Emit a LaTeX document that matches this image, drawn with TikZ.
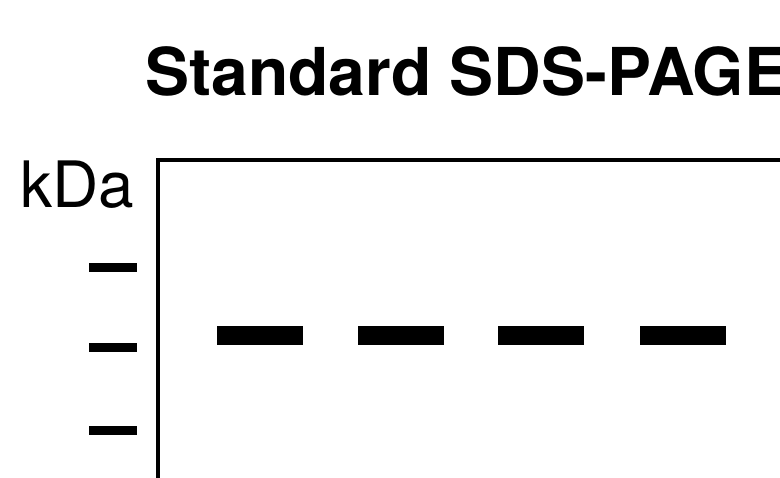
\documentclass[tikz,border=0pt]{standalone}
\usepackage{fontspec}
\setmainfont{TeX Gyre Heros}
\begin{document}
\begin{tikzpicture}[x=1pt,y=-1pt,
  gelframe/.style={line width=4.8pt,line cap=rect},
  marker/.style={fill=black},
  band/.style={fill=black},
  label/.style={inner sep=0pt,anchor=base west}]
\useasboundingbox (0,0) rectangle (780,478);
\clip (0,0) rectangle (780,478);
% title
\node[label,font=\fontsize{66}{70}\selectfont\bfseries] (title) at (145,96) {Standard SDS-PAGE};
% unit label
\node[label,font=\fontsize{64}{68}\selectfont] (unit) at (20,208) {kDa};
% gel outline
\draw[gelframe] (158,160) -- (800,160);
\draw[gelframe] (158,160) -- (158,500);
% molecular weight markers
\foreach \y/\n in {268/m1,347.5/m2,431/m3}
  \fill[marker] (89,\y-4.5) rectangle (137,\y+4.5);
% protein bands in each lane
\foreach \x in {217,358,498,640}
  \fill[band] (\x,326) rectangle (\x+86,345);
\end{tikzpicture}
\end{document}
